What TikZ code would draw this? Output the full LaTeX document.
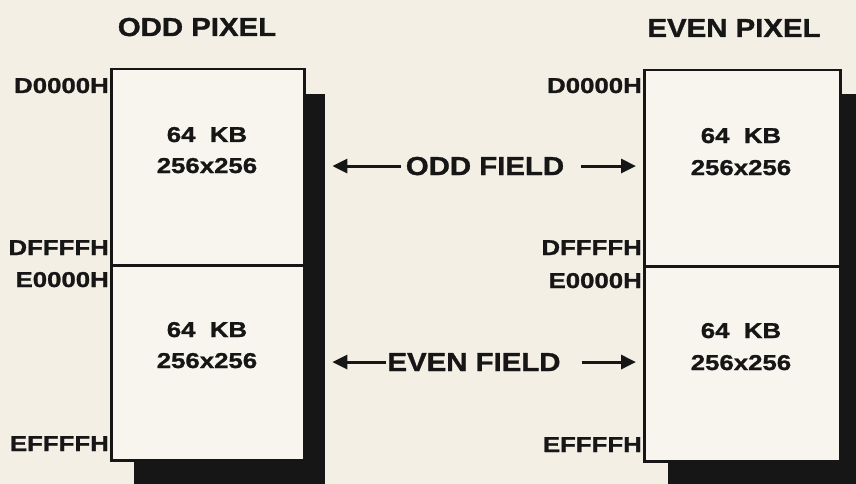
\documentclass[tikz,border=0pt]{standalone}
\usepackage{fontspec}
\setmainfont{Liberation Sans}[FakeStretch=1.2, BoldFeatures={FakeBold=1.2}]
\newfontfamily\bigfam{Liberation Sans}[FakeStretch=1.13, BoldFeatures={FakeBold=1.2}]
\usetikzlibrary{arrows.meta}
\definecolor{paper}{RGB}{243,239,229}
\definecolor{boxfill}{RGB}{248,245,238}
\definecolor{ink}{RGB}{22,22,22}
\begin{document}
\begin{tikzpicture}[x=1pt,y=-1pt,
  bigtxt/.style={font=\bigfam\bfseries\fontsize{26}{30}\selectfont, text=ink, inner sep=0pt},
  smalltxt/.style={font=\bfseries\fontsize{21.5}{25}\selectfont, text=ink, inner sep=0pt},
  addr/.style={smalltxt, anchor=base east},
  block/.style={draw=ink, line width=2.5pt, fill=boxfill, rectangle, inner sep=0pt, anchor=north west},
  shade/.style={fill=ink, draw=none, rectangle, inner sep=0pt, anchor=north west},
  arr/.style={draw=ink, line width=3pt, -{Triangle[length=15pt,width=14pt]}}]
\clip (0,0) rectangle (856,484);
\fill[paper] (0,0) rectangle (856,484);
% shadows
\node[shade, minimum width=191pt, minimum height=400pt] (lsh) at (134,94) {};
\node[shade, minimum width=200pt, minimum height=400pt] (rsh) at (668,94) {};
% blocks
\node[block, minimum width=193pt, minimum height=196pt] (lo) at (110,68) {};
\node[block, minimum width=193pt, minimum height=195pt] (le) at (110,264) {};
\node[block, minimum width=196pt, minimum height=196pt] (ro) at (643,69) {};
\node[block, minimum width=196pt, minimum height=195pt] (re) at (643,265) {};
% titles
\node[bigtxt, anchor=base] (tl) at (197,36) {ODD PIXEL};
\node[bigtxt, anchor=base] (tr) at (734,37) {EVEN PIXEL};
% addresses
\node[addr] (a1) at (109,93) {D0000H};
\node[addr] (a2) at (109,255) {DFFFFH};
\node[addr] (a3) at (109,287) {E0000H};
\node[addr] (a4) at (109,451) {EFFFFH};
\node[addr] (b1) at (642,93) {D0000H};
\node[addr] (b2) at (642,255) {DFFFFH};
\node[addr] (b3) at (642,288) {E0000H};
\node[addr] (b4) at (642,452) {EFFFFH};
% block contents
\node[smalltxt, anchor=base] (lo1) at (207,142) {64\ \ KB};
\node[smalltxt, anchor=base] (lo2) at (207,173) {256x256};
\node[smalltxt, anchor=base] (le1) at (207,337) {64\ \ KB};
\node[smalltxt, anchor=base] (le2) at (207,368) {256x256};
\node[smalltxt, anchor=base] (ro1) at (741,143) {64\ \ KB};
\node[smalltxt, anchor=base] (ro2) at (741,175) {256x256};
\node[smalltxt, anchor=base] (re1) at (741,338) {64\ \ KB};
\node[smalltxt, anchor=base] (re2) at (741,370) {256x256};
% fields
\node[bigtxt, anchor=base] (of) at (485,175) {ODD FIELD};
\node[bigtxt, anchor=base] (ef) at (474,371) {EVEN FIELD};
\draw[arr, shorten <=5pt, shorten >=7pt] (of.west) -- (of.west -| lsh.east);
\draw[arr, shorten <=17pt, shorten >=7pt] (of.east) -- (of.east -| ro.west);
\draw[arr, shorten <=1pt, shorten >=7pt] (ef.west) -- (ef.west -| lsh.east);
\draw[arr, shorten <=21pt, shorten >=7pt] (ef.east) -- (ef.east -| re.west);
\end{tikzpicture}
\end{document}
